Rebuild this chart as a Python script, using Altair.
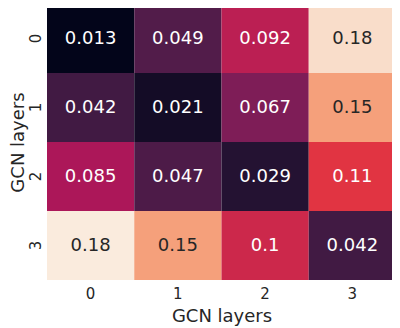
import altair as alt
import pandas as pd
import numpy as np

layers = ["0", "1", "2", "3"]
values = [
    [0.013, 0.049, 0.092, 0.176],
    [0.042, 0.021, 0.067, 0.150],
    [0.085, 0.047, 0.029, 0.110],
    [0.182, 0.150, 0.100, 0.042],
]
rocket = ["#03051a", "#35193e", "#701f57", "#ad1759",
          "#e13342", "#f37651", "#f6b48f", "#faebdd"]

rows = []
for i, r in enumerate(layers):
    for j, c in enumerate(layers):
        rows.append({"row": r, "col": c, "v": values[i][j]})
df = pd.DataFrame(rows)
vmin, vmax = float(df.v.min()), float(df.v.max())
stops = [float(s) for s in np.linspace(vmin, vmax, len(rocket))]

FONT = "DejaVu Sans"
TXT = "#262626"

base = alt.Chart(df).encode(
    x=alt.X("col:O", sort=layers, title="GCN layers",
            scale=alt.Scale(paddingInner=0, paddingOuter=0),
            axis=alt.Axis(labelAngle=0, domain=False, ticks=False, tickSize=0,
                          labelPadding=18, labelBaseline="alphabetic",
                          labelFontSize=15, titleFontSize=18,
                          titleX=174.5, titleY=41, titleAlign="center",
                          titleBaseline="alphabetic")),
    y=alt.Y("row:O", sort=layers, title="GCN layers",
            scale=alt.Scale(paddingInner=0, paddingOuter=0),
            axis=alt.Axis(labelAngle=270, domain=False, ticks=False, tickSize=0,
                          labelPadding=7, labelFontSize=15, titleFontSize=18,
                          labelAlign="center", labelBaseline="alphabetic",
                          titleX=-24, titleY=138, titleAlign="center",
                          titleBaseline="alphabetic", titleAngle=270)),
)

rect = base.mark_rect(strokeWidth=0).encode(
    color=alt.Color("v:Q", scale=alt.Scale(domain=stops, range=rocket,
                                           interpolate="rgb"), legend=None)
)
text = base.mark_text(font=FONT, fontSize=18).encode(
    text=alt.Text("v:Q", format=".2~g"),
    color=alt.condition(alt.datum.v > 0.13, alt.value(TXT), alt.value("white")),
)

chart = (rect + text).properties(
    width=349, height=276,
    autosize=alt.AutoSizeParams(type="none"),
    padding={"left": 39, "top": -4, "right": -4, "bottom": 48},
).configure_view(stroke=None).configure_axis(
    labelFont=FONT, titleFont=FONT, labelColor=TXT, titleColor=TXT,
    titleFontWeight="normal",
)

chart.save("out.html", embed_options={"renderer": "svg", "actions": False})
